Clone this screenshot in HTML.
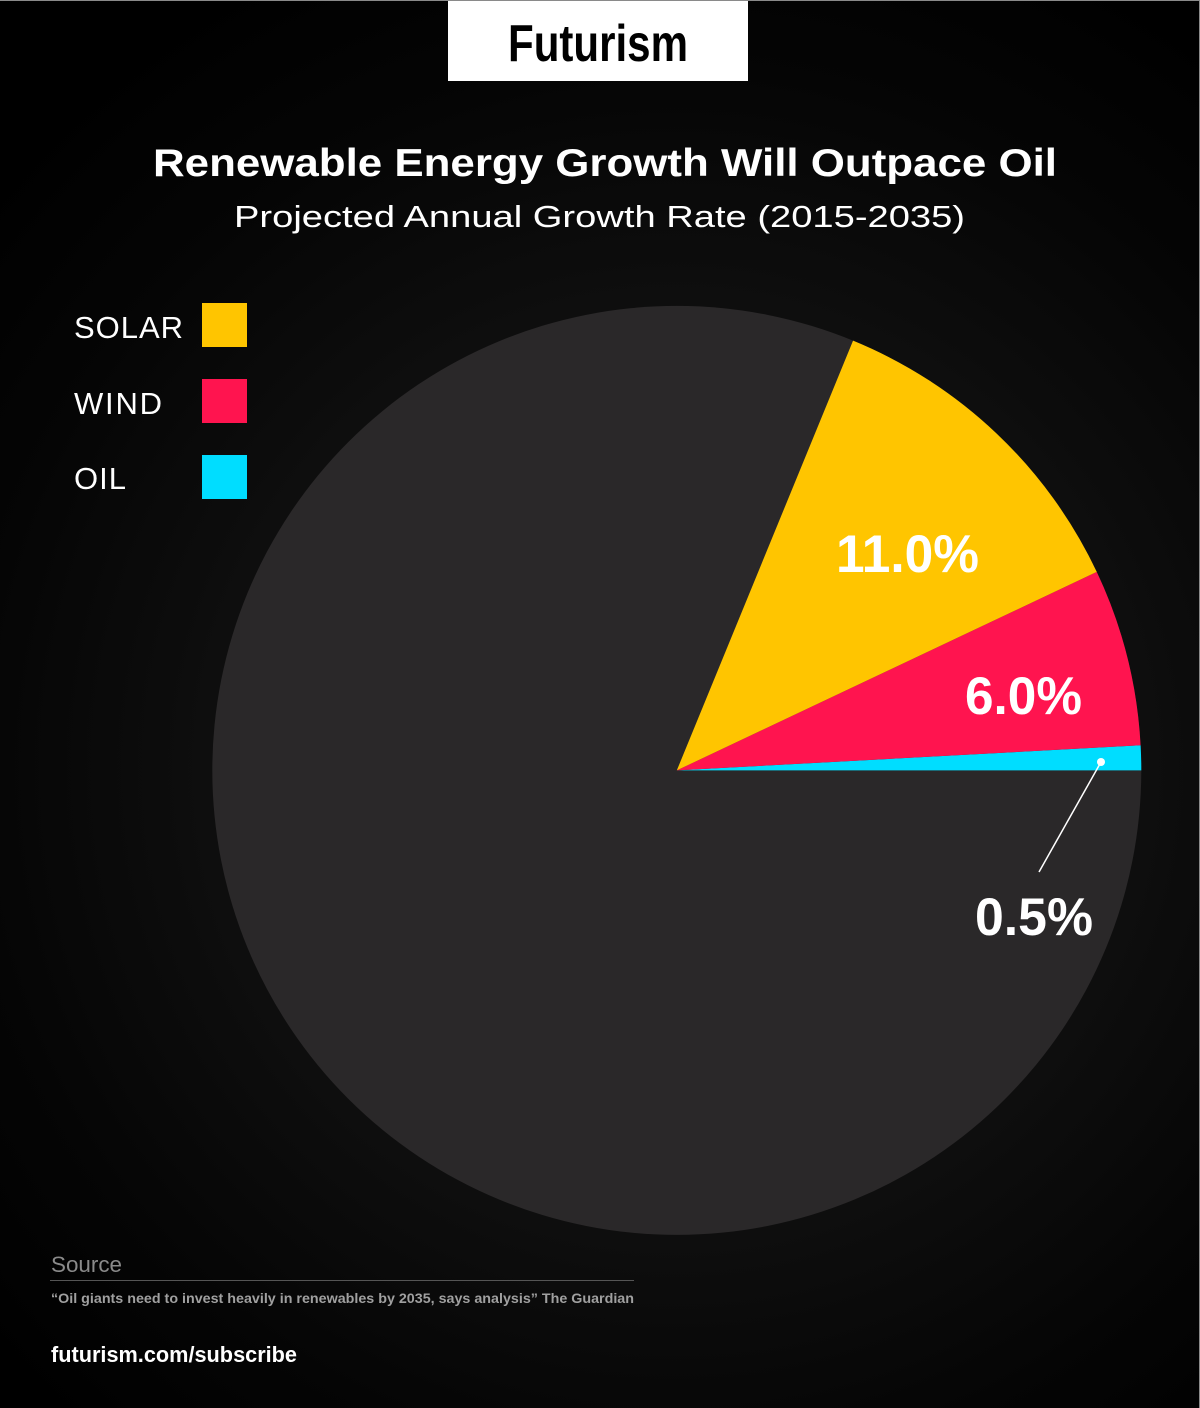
<!DOCTYPE html>
<html>
<head>
<meta charset="utf-8">
<style>
  html, body { margin:0; padding:0; }
  body { width:1200px; height:1408px; overflow:hidden;
    background: radial-gradient(circle at 676px 770px, #151515 0px, #0e0e0e 470px, #050505 700px, #000 900px); }
  svg { display:block; }
  text { font-family: "Liberation Sans", "DejaVu Sans", sans-serif; }
</style>
</head>
<body>
<svg width="1200" height="1408" viewBox="0 0 1200 1408" xmlns="http://www.w3.org/2000/svg">
  <!-- border -->
  <rect x="0" y="0" width="1200" height="1" fill="#8a8a8a"/>
  <rect x="1199" y="0" width="1" height="1408" fill="#8a8a8a"/>

  <!-- logo box -->
  <rect x="448" y="1" width="300" height="80" fill="#ffffff"/>
  <text x="508" y="61" font-size="52" font-weight="bold" fill="#000" textLength="180" lengthAdjust="spacingAndGlyphs">Futurism</text>

  <!-- titles -->
  <text x="153" y="176" font-size="39" font-weight="bold" fill="#ffffff" textLength="904" lengthAdjust="spacingAndGlyphs">Renewable Energy Growth Will Outpace Oil</text>
  <text x="234" y="227" font-size="31" fill="#ffffff" textLength="731" lengthAdjust="spacingAndGlyphs">Projected Annual Growth Rate (2015-2035)</text>

  <!-- legend -->
  <text x="74" y="338" font-size="31" fill="#ffffff" textLength="109" lengthAdjust="spacing">SOLAR</text>
  <rect x="202" y="303" width="45" height="44" fill="#FFC500"/>
  <text x="74" y="414" font-size="31" fill="#ffffff" textLength="88" lengthAdjust="spacing">WIND</text>
  <rect x="202" y="379" width="45" height="44" fill="#FF144F"/>
  <text x="74" y="489" font-size="31" fill="#ffffff" textLength="52" lengthAdjust="spacing">OIL</text>
  <rect x="202" y="455" width="45" height="44" fill="#00DDFF"/>

  <!-- pie -->
  <circle cx="676.8" cy="770.4" r="464.5" fill="#2A2829"/>
  <path d="M676.8 770.4 L1141.3 770.4 A464.5 464.5 0 0 0 1140.6 745.3 Z" fill="#00DDFF"/>
  <path d="M676.8 770.4 L1140.6 745.3 A464.5 464.5 0 0 0 1096.75 571.9 Z" fill="#FF144F"/>
  <path d="M676.8 770.4 L1096.75 571.9 A464.5 464.5 0 0 0 853.06 340.64 Z" fill="#FFC500"/>

  <!-- labels -->
  <text x="836" y="572" font-size="53" font-weight="bold" fill="#ffffff" textLength="143" lengthAdjust="spacingAndGlyphs">11.0%</text>
  <text x="965" y="714" font-size="53" font-weight="bold" fill="#ffffff" textLength="117" lengthAdjust="spacingAndGlyphs">6.0%</text>
  <text x="975" y="935" font-size="53" font-weight="bold" fill="#ffffff" textLength="118" lengthAdjust="spacingAndGlyphs">0.5%</text>

  <!-- leader -->
  <line x1="1101" y1="762" x2="1039" y2="872" stroke="#ffffff" stroke-width="1.5"/>
  <circle cx="1101" cy="762" r="4" fill="#ffffff"/>

  <!-- footer -->
  <text x="51" y="1272" font-size="22" fill="#8a8a8a" textLength="71" lengthAdjust="spacingAndGlyphs">Source</text>
  <rect x="50" y="1280" width="584" height="1" fill="#555555"/>
  <text x="51" y="1303" font-size="14" font-weight="bold" fill="#a0a0a0" textLength="583" lengthAdjust="spacingAndGlyphs">“Oil giants need to invest heavily in renewables by 2035, says analysis”  The Guardian</text>
  <text x="51" y="1362" font-size="22" font-weight="bold" fill="#ffffff" textLength="246" lengthAdjust="spacingAndGlyphs">futurism.com/subscribe</text>
</svg>
</body>
</html>
